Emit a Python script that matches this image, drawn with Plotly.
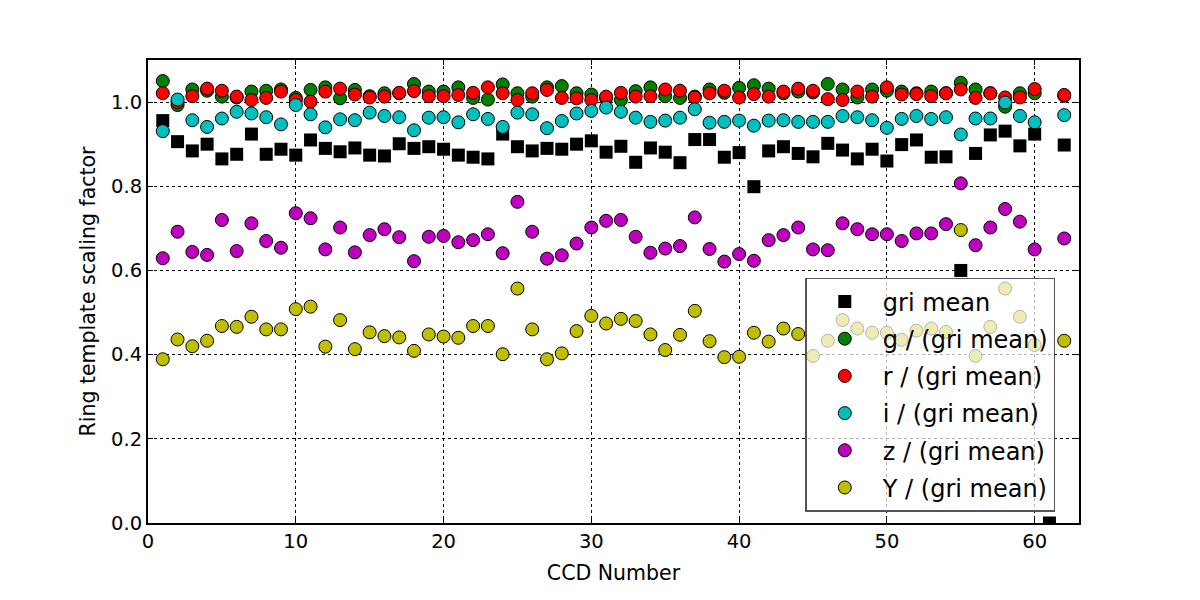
import plotly.graph_objects as go

ccd = list(range(1, 63))

gri_mean = [0.956, 0.906, 0.884, 0.900, 0.865, 0.876, 0.924, 0.876, 0.888, 0.874,
            0.910, 0.890, 0.882, 0.891, 0.874, 0.872, 0.901, 0.890, 0.894, 0.888,
            0.874, 0.869, 0.865, 0.924, 0.894, 0.884, 0.890, 0.888, 0.900, 0.908,
            0.881, 0.895, 0.857, 0.891, 0.881, 0.856, 0.911, 0.911, 0.869, 0.880,
            0.799, 0.884, 0.894, 0.878, 0.870, 0.902, 0.886, 0.865, 0.888, 0.860,
            0.899, 0.910, 0.869, 0.870, 0.600, 0.878, 0.922, 0.931, 0.896, 0.924,
            0.0, 0.898]

g_ratio = [1.050, 0.993, 1.030, 1.027, 1.013, 1.011, 1.025, 1.027, 1.030, 1.010,
           1.029, 1.035, 1.009, 1.029, 1.014, 1.021, 1.021, 1.043, 1.025, 1.025,
           1.035, 1.010, 1.006, 1.042, 1.021, 1.013, 1.035, 1.038, 1.021, 1.018,
           1.009, 1.005, 1.026, 1.035, 1.014, 1.010, 1.013, 1.030, 1.022, 1.034,
           1.040, 1.032, 1.021, 1.025, 1.023, 1.043, 1.030, 1.011, 1.030, 1.027,
           1.025, 1.021, 1.025, 1.021, 1.046, 1.030, 1.021, 0.989, 1.021, 1.021,
           None, 1.015]

r_ratio = [1.021, 1.000, 1.014, 1.032, 1.027, 1.013, 1.005, 1.010, 1.025, 1.005,
           1.001, 1.025, 1.032, 1.018, 1.011, 1.013, 1.022, 1.026, 1.014, 1.014,
           1.017, 1.022, 1.035, 1.021, 1.005, 1.021, 1.029, 1.010, 1.009, 1.005,
           1.013, 1.022, 1.013, 1.014, 1.030, 1.027, 1.011, 1.021, 1.027, 1.011,
           1.019, 1.013, 1.025, 1.032, 1.027, 1.007, 1.005, 1.025, 1.013, 1.035,
           1.018, 1.019, 1.014, 1.021, 1.030, 1.010, 1.021, 1.011, 1.011, 1.031,
           None, 1.017]

i_ratio = [0.931, 1.006, 0.957, 0.941, 0.961, 0.977, 0.973, 0.964, 0.947, 0.993,
           0.971, 0.940, 0.959, 0.957, 0.975, 0.967, 0.964, 0.933, 0.963, 0.964,
           0.952, 0.971, 0.960, 0.941, 0.975, 0.971, 0.938, 0.955, 0.973, 0.979,
           0.987, 0.977, 0.963, 0.953, 0.956, 0.963, 0.983, 0.951, 0.953, 0.956,
           0.944, 0.956, 0.957, 0.953, 0.953, 0.953, 0.967, 0.964, 0.957, 0.939,
           0.960, 0.967, 0.960, 0.964, 0.923, 0.961, 0.961, 0.999, 0.967, 0.952,
           None, 0.969]

z_ratio = [0.629, 0.692, 0.644, 0.637, 0.720, 0.646, 0.712, 0.670, 0.654, 0.736,
           0.724, 0.650, 0.702, 0.643, 0.684, 0.698, 0.679, 0.622, 0.680, 0.682,
           0.667, 0.672, 0.686, 0.641, 0.763, 0.692, 0.628, 0.636, 0.664, 0.702,
           0.718, 0.720, 0.680, 0.642, 0.652, 0.658, 0.726, 0.651, 0.621, 0.639,
           0.623, 0.672, 0.684, 0.702, 0.650, 0.648, 0.712, 0.698, 0.686, 0.686,
           0.670, 0.688, 0.688, 0.710, 0.807, 0.660, 0.702, 0.746, 0.716, 0.650,
           None, 0.676]

y_ratio = [0.389, 0.436, 0.420, 0.433, 0.468, 0.466, 0.490, 0.460, 0.460, 0.508,
           0.514, 0.419, 0.482, 0.413, 0.453, 0.444, 0.441, 0.409, 0.448, 0.443,
           0.440, 0.468, 0.468, 0.401, 0.557, 0.460, 0.389, 0.403, 0.456, 0.492,
           0.474, 0.485, 0.480, 0.448, 0.411, 0.447, 0.504, 0.432, 0.394, 0.395,
           0.452, 0.431, 0.462, 0.449, 0.397, 0.433, 0.482, 0.462, 0.452, 0.452,
           0.435, 0.457, 0.462, 0.454, 0.696, 0.397, 0.466, 0.557, 0.490, 0.423,
           None, 0.433]

series = [
    ("gri mean", gri_mean, "black", "square"),
    ("g / (gri mean)", g_ratio, "#008000", "circle"),
    ("r / (gri mean)", r_ratio, "#ff0000", "circle"),
    ("i / (gri mean)", i_ratio, "#00bfbf", "circle"),
    ("z / (gri mean)", z_ratio, "#bf00bf", "circle"),
    ("Y / (gri mean)", y_ratio, "#bfbf00", "circle"),
]

fig = go.Figure()
for k, (name, vals, col, sym) in enumerate(series):
    fig.add_trace(go.Scatter(
        x=ccd, y=vals, mode="markers", name=name, legendgroup=str(k),
        marker=dict(color=col, symbol=sym, size=13,
                    line=dict(color="black", width=0 if sym == "square" else 1)),
    ))

axis_common = dict(
    showline=True, linecolor="black", linewidth=2, mirror="ticks",
    ticks="inside", ticklen=5, tickcolor="black", tickwidth=1,
    showgrid=True, gridcolor="black", gridwidth=1, griddash="dot",
    zeroline=False, tickfont=dict(size=19.5, color="black"),
)

fig.update_layout(
    width=1200, height=600,
    margin=dict(l=148, r=121, t=60, b=77),
    paper_bgcolor="white", plot_bgcolor="white",
    font=dict(family="DejaVu Sans", color="black"),
    xaxis=dict(range=[0, 63], tickvals=[0, 10, 20, 30, 40, 50, 60],
               title=dict(text="CCD Number", font=dict(size=20.5), standoff=13),
               **axis_common),
    yaxis=dict(range=[0, 1.1], tickvals=[0, 0.2, 0.4, 0.6, 0.8, 1.0],
               tickformat=".1f",
               title=dict(text="Ring template scaling factor", font=dict(size=20.5), standoff=10),
               **axis_common),
    legend=dict(
        x=0.706, y=0.024, xanchor="left", yanchor="bottom",
        bgcolor="rgba(255,255,255,0.7)", bordercolor="#555555", borderwidth=1.5,
        font=dict(size=24, color="black"), itemwidth=66, tracegroupgap=3,
        traceorder="grouped",
    ),
    showlegend=True,
)

fig.write_html("out.html")
